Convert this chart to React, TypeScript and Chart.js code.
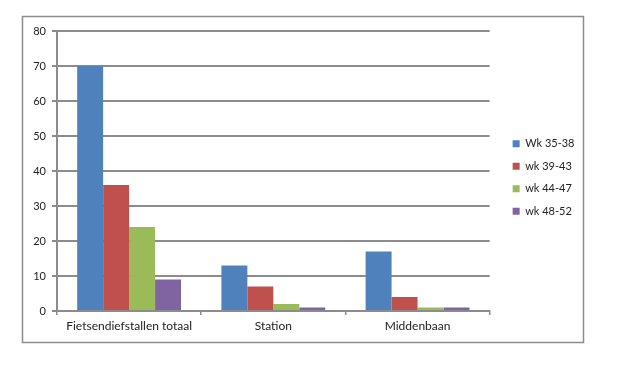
import React, { useEffect, useRef } from "react";
import { Chart, registerables } from "chart.js";

Chart.register(...registerables);

const categories = ["Fietsendiefstallen totaal", "Station", "Middenbaan"];
const seriesLabels = ["Wk 35-38", "wk 39-43", "wk 44-47", "wk 48-52"];
const wk35_38 = [70, 13, 17];
const wk39_43 = [36, 7, 4];
const wk44_47 = [24, 2, 1];
const wk48_52 = [9, 1, 1];
const seriesColors = ["#4F81BD", "#C0504D", "#9BBB59", "#8064A2"];
const yTicks = [0, 10, 20, 30, 40, 50, 60, 70, 80];

const FONT = "Lato, 'Noto Sans', sans-serif";

export default function App() {
  const ref = useRef<HTMLCanvasElement>(null);
  useEffect(() => {
    const canvas = ref.current;
    if (!canvas) return;
    const seriesValues = [wk35_38, wk39_43, wk44_47, wk48_52];
    const framePlugin = {
      id: "frame",
      beforeDraw(chart: any) {
        const ctx = chart.ctx;
        ctx.save();
        ctx.fillStyle = "#ffffff";
        ctx.fillRect(0, 0, chart.width, chart.height);
        ctx.strokeStyle = "#8c8c8c";
        ctx.lineWidth = 1.5;
        ctx.strokeRect(22.5, 16.5, 561, 326);
        ctx.restore();
        const lg = chart.legend;
        if (lg) {
          const dx = chart.chartArea.right + 11.5 - lg.left;
          lg.left += dx;
          lg.right += dx;
          lg.top -= 9.5;
          lg.bottom -= 9.5;
        }
      },
    };
    const chart = new Chart(canvas, {
      type: "bar",
      data: {
        labels: categories,
        datasets: seriesValues.map((vals, i) => ({
          label: seriesLabels[i],
          data: vals,
          backgroundColor: seriesColors[i],
          borderWidth: 0,
          categoryPercentage: 0.72,
          barPercentage: 1,
        })),
      },
      options: {
        animation: false,
        responsive: true,
        maintainAspectRatio: false,
        layout: { padding: { left: 23, right: 47, top: 31, bottom: 22 } },
        plugins: {
          tooltip: { enabled: false },
          legend: {
            position: "right",
            align: "center",
            labels: {
              boxWidth: 7,
              boxHeight: 7,
              padding: 11.5,
              color: "#222",
              font: { family: FONT, size: 11 },
            },
          },
        },
        scales: {
          x: {
            offset: true,
            grid: {
              display: true,
              offset: true,
              drawOnChartArea: false,
              drawTicks: true,
              tickLength: 4,
              color: "#8c8c8c",
              lineWidth: 1.5,
            },
            border: { display: true, color: "#8c8c8c", width: 2 },
            ticks: {
              color: "#222",
              font: { family: FONT, size: 12 },
              padding: 4,
              maxRotation: 0,
            },
            afterFit(scale: any) {
              scale.height = 32;
            },
          },
          y: {
            min: 0,
            max: 80,
            afterBuildTicks(scale: any) {
              scale.ticks = yTicks.map((v) => ({ value: v }));
            },
            grid: {
              color: "#8c8c8c",
              lineWidth: 2,
              tickLength: 5,
            },
            border: { display: true, color: "#8c8c8c", width: 2 },
            ticks: {
              color: "#222",
              font: { family: FONT, size: 11 },
              padding: 6,
            },
            afterFit(scale: any) {
              scale.width = 34;
            },
          },
        },
      },
      plugins: [framePlugin],
    });
    return () => chart.destroy();
  }, []);
  return (
    <div style={{ position: "fixed", left: 0, top: 0, width: 620, height: 365, background: "#fff" }}>
      <canvas ref={ref} />
    </div>
  );
}
